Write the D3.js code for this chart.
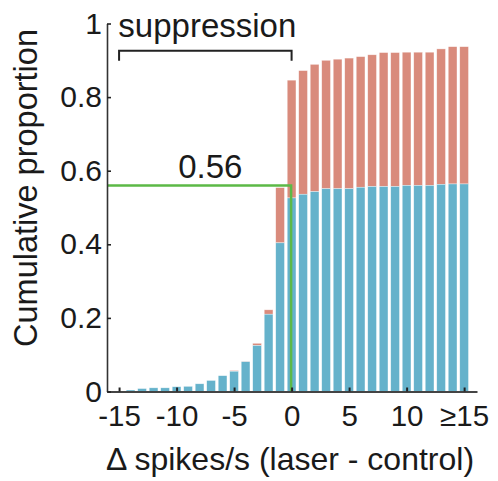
<!DOCTYPE html>
<html>
<head>
<meta charset="utf-8">
<script src="https://d3js.org/d3.v7.min.js"></script>
<style>
  body { margin: 0; background: #fff; }
  text { font-family: "Liberation Sans", Arial, sans-serif; fill: #1a1a1a; }
</style>
</head>
<body>
<div id="chart"></div>
<script>
// bins of delta firing rate (spikes/s), last bin is >=15
var bins = [-15, -14, -13, -12, -11, -10, -9, -8, -7, -6, -5, -4, -3, -2, -1,
            0, 1, 2, 3, 4, 5, 6, 7, 8, 9, 10, 11, 12, 13, 14, 15];

// cumulative proportion, lower (blue) part
var blueCum = [0, 0.004, 0.008, 0.010, 0.010, 0.013, 0.014, 0.021, 0.030, 0.043,
               0.055, 0.081, 0.125, 0.210, 0.404,
               0.526, 0.536, 0.543, 0.551, 0.551, 0.551, 0.555, 0.557, 0.557, 0.557,
               0.560, 0.560, 0.560, 0.563, 0.564, 0.564];

// cumulative proportion, total (top of red part)
var totalCum = [0, 0.004, 0.008, 0.010, 0.010, 0.013, 0.014, 0.021, 0.030, 0.043,
                0.057, 0.082, 0.131, 0.222, 0.554,
                0.846, 0.872, 0.889, 0.900, 0.903, 0.906, 0.910, 0.915, 0.921, 0.921,
                0.922, 0.922, 0.922, 0.931, 0.937, 0.937];

var xTickVals = [-15, -10, -5, 0, 5, 10, 15];
var xTickLabels = ["-15", "-10", "-5", "0", "5", "10", "\u226515"];
var yTickVals = [0, 0.2, 0.4, 0.6, 0.8, 1];
var yTickLabels = ["0", "0.2", "0.4", "0.6", "0.8", "1"];

// green marker: proportion at zero
var markX = 0, markY = 0.56;
var markLabel = "0.56";
// suppression bracket range
var bracketFrom = -15, bracketTo = 0;

var margin = { top: 23.5, left: 107 };
var width = 370, height = 368;

var x = d3.scaleLinear().domain([-16.05, 16.12]).range([0, width]);
var y = d3.scaleLinear().domain([0, 1]).range([height, 0]);

var blue = "#65b2cb", red = "#d98b7c", green = "#5cb947";

var svg = d3.select("#chart").append("svg")
    .attr("width", 498)
    .attr("height", 481);

var g = svg.append("g")
    .attr("transform", "translate(" + margin.left + "," + margin.top + ")");

var barW = (x(1) - x(0)) * 0.76;

var data = bins.map(function(b, i) {
    return { bin: b, blue: blueCum[i], total: totalCum[i] };
});

// red (upper) segments
g.selectAll(".bar-red")
    .data(data)
    .enter().append("rect")
    .attr("class", "bar-red")
    .attr("x", function(d) { return x(d.bin) - barW / 2; })
    .attr("width", barW)
    .attr("y", function(d) { return y(d.total); })
    .attr("height", function(d) { return y(d.blue) - y(d.total); })
    .style("fill", red)
    .style("stroke", "#fff")
    .style("stroke-width", 0.6)
    .style("stroke-opacity", 0.6);

// blue (lower) segments
g.selectAll(".bar-blue")
    .data(data)
    .enter().append("rect")
    .attr("class", "bar-blue")
    .attr("x", function(d) { return x(d.bin) - barW / 2; })
    .attr("width", barW)
    .attr("y", function(d) { return y(d.blue); })
    .attr("height", function(d) { return y(0) - y(d.blue); })
    .style("fill", blue)
    .style("stroke", "#fff")
    .style("stroke-width", 0.6)
    .style("stroke-opacity", 0.6);

// green marker lines
g.append("path")
    .attr("d", "M" + x.range()[0] + "," + y(markY) +
               "H" + (x(markX) - 0.5) + "V" + y(0))
    .style("fill", "none")
    .style("stroke", green)
    .style("stroke-width", 2.5);

g.append("text")
    .attr("x", (x(bracketFrom) + x(markX)) / 2 + 5)
    .attr("y", y(markY) - 7)
    .style("text-anchor", "middle")
    .style("font-size", "33px")
    .text(markLabel);

// axes
var xAxis = d3.axisBottom(x)
    .tickValues(xTickVals)
    .tickFormat(function(d, i) { return xTickLabels[i]; })
    .tickSizeInner(-4)
    .tickSizeOuter(0)
    .tickPadding(14);

var yAxis = d3.axisLeft(y)
    .tickValues(yTickVals)
    .tickFormat(function(d, i) { return yTickLabels[i]; })
    .tickSizeInner(-4)
    .tickSizeOuter(0)
    .tickPadding(5);

var gx = g.append("g")
    .attr("transform", "translate(0," + height + ")")
    .call(xAxis);
gx.select(".domain").attr("stroke", "#444").attr("stroke-width", 2);
gx.selectAll(".tick line").attr("stroke", "#222").attr("stroke-width", 2);
gx.selectAll(".tick text").style("font-size", "29.5px").attr("fill", "#1a1a1a");

var gy = g.append("g").call(yAxis);
gy.select(".domain").attr("stroke", "#333").attr("stroke-width", 1.6);
gy.selectAll(".tick line").attr("stroke", "#222").attr("stroke-width", 1.6);
gy.selectAll(".tick text").style("font-size", "30px").attr("fill", "#1a1a1a");

// axis labels
svg.append("text")
    .attr("x", 290)
    .attr("y", 470)
    .style("text-anchor", "middle")
    .style("font-size", "32px")
    .text("\u0394 spikes/s (laser - control)");

svg.append("text")
    .attr("transform", "translate(37,188) rotate(-90)")
    .style("text-anchor", "middle")
    .style("font-size", "32.5px")
    .text("Cumulative proportion");

// suppression bracket
var by = 50.7 - margin.top;
g.append("path")
    .attr("d", "M" + x(bracketFrom) + "," + (by + 10) + "V" + by +
               "H" + x(bracketTo) + "V" + (by + 10))
    .style("fill", "none")
    .style("stroke", "#222")
    .style("stroke-width", 2);

g.append("text")
    .attr("x", (x(bracketFrom) + x(bracketTo)) / 2 + 2)
    .attr("y", 37 - margin.top)
    .style("text-anchor", "middle")
    .style("font-size", "33px")
    .text("suppression");
</script>
</body>
</html>
